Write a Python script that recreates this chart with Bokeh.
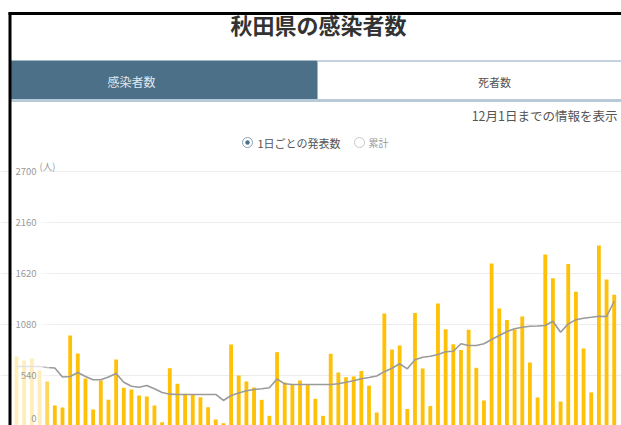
from bokeh.plotting import figure
from bokeh.models import Range1d, FixedTicker, Grid
from bokeh.core.properties import value
from bokeh.embed import file_html
from bokeh.resources import INLINE

# ---- data ----
daily = [738, 696, 717, 589, 473, 218, 196, 961, 770, 504,
         175, 483, 278, 706, 406, 388, 324, 313, 218, 40,
         614, 448, 342, 335, 306, 200, 69, 30, 866, 536,
         473, 409, 278, 108, 784, 462, 435, 483, 441, 289,
         108, 767, 568, 518, 526, 584, 428, 143, 1195, 812,
         855, 181, 1200, 611, 212, 1301, 1027, 868, 807, 1022,
         618, 271, 1726, 1248, 1126, 1025, 1163, 674, 303, 1821,
         1569, 260, 1720, 1425, 823, 356, 1917, 1556, 1393]
avg7 = [632, 632, 632, 632, 621, 616, 520, 526, 568, 526,
        491, 491, 520, 558, 465, 423, 412, 430, 395, 356,
        338, 335, 335, 335, 335, 335, 335, 271, 324, 350,
        374, 388, 395, 406, 499, 448, 441, 441, 441, 441,
        441, 441, 448, 465, 480, 501, 515, 531, 577, 613,
        661, 607, 703, 731, 741, 759, 788, 794, 873, 855,
        855, 873, 919, 961, 1004, 1032, 1049, 1059, 1062, 1067,
        1113, 996, 1085, 1128, 1145, 1155, 1166, 1163, 1325]
y_ticks = [540, 1080, 1620, 2160, 2700]
y_tick_labels = ["540", "1080", "1620", "2160", "2700"]
zero_tick = [0]
zero_label = ["0"]
title_text = "秋田県の感染者数"
tab_labels = ["感染者数", "死者数"]
note_text = "12月1日までの情報を表示"
radio_labels = ["1日ごとの発表数", "累計"]
unit_text = "(人)"

idx = list(range(len(daily)))
FONT = value("Noto Sans CJK JP")

p = figure(width=621, height=425,
           x_range=Range1d(-2.088, 78.95), y_range=Range1d(5.3, 4519),
           output_backend="svg", toolbar_location=None,
           x_axis_location=None, y_axis_location=None,
           min_border=0, min_border_left=0, min_border_right=0,
           min_border_top=0, min_border_bottom=0,
           outline_line_color=None,
           background_fill_color="white", border_fill_color="white")
p.title.visible = False
p.xgrid.visible = False
p.ygrid.visible = False
p.extra_x_ranges = {"px": Range1d(0, 621)}
p.extra_y_ranges = {"px": Range1d(425, 0)}

g = Grid(dimension=1, ticker=FixedTicker(ticks=y_ticks),
         grid_line_color="#ececec", grid_line_width=1)
p.add_layout(g)

# bars and average line
p.vbar(x=idx, top=daily, bottom=0, width=0.5, color="#FFC107", line_color=None)
p.line(x=idx, y=avg7, line_color="#9a9a9a", line_width=1.6)

PX = dict(x_range_name="px", y_range_name="px")

# faded overlay on the left (sticky axis area)
p.quad(left=[11], right=[43], top=[150], bottom=[425], fill_color="white",
       fill_alpha=0.72, line_color=None, **PX)
p.quad(left=[43], right=[49], top=[150], bottom=[425], fill_color="white",
       fill_alpha=0.35, line_color=None, **PX)

# y tick labels
p.text(x=[36] * len(y_ticks), y=y_ticks, text=y_tick_labels, x_range_name="px",
       text_align="right", text_baseline="middle", text_font=FONT,
       text_font_size="9.5px", text_color="#9a9a9a")
p.text(x=[36], y=zero_tick, text=zero_label, x_range_name="px", y_offset=-4,
       text_align="right", text_baseline="bottom", text_font=FONT,
       text_font_size="9.5px", text_color="#9a9a9a")
p.text(x=[39], y=[165], text=[unit_text], text_align="left", text_baseline="middle",
       text_font=FONT, text_font_size="9.5px", text_color="#9a9a9a", **PX)

# title
p.text(x=[318], y=[23], text=[title_text], text_align="center", text_baseline="middle",
       text_font=FONT, text_font_size="22px", text_font_style="bold",
       text_color="#333333", **PX)

# tabs
p.quad(left=[10], right=[317], top=[60], bottom=[98.5], fill_color="#4d7089",
       line_color=None, **PX)
p.quad(left=[317], right=[621], top=[59.5], bottom=[61.5], fill_color="#c3d2de",
       line_color=None, **PX)
p.quad(left=[10], right=[621], top=[98.5], bottom=[101.5], fill_color="#b8c9d7",
       line_color=None, **PX)
p.text(x=[131], y=[81], text=[tab_labels[0]], text_align="center", text_baseline="middle",
       text_font=FONT, text_font_size="12px", text_color="#e2e8ee", **PX)
p.text(x=[494], y=[81], text=[tab_labels[1]], text_align="center", text_baseline="middle",
       text_font=FONT, text_font_size="11px", text_color="#555555", **PX)

# note
p.text(x=[617], y=[115], text=[note_text], text_align="right", text_baseline="middle",
       text_font=FONT, text_font_size="12.5px", text_color="#555555", **PX)

# radio buttons
p.scatter(x=[247, 359], y=[142, 142], size=10, fill_color="white",
          line_color=["#8aa0b3", "#c8c8c8"], line_width=1, **PX)
p.scatter(x=[247], y=[142], size=4.5, fill_color="#4d7089", line_color=None, **PX)
p.text(x=[257], y=[142], text=[radio_labels[0]], text_align="left", text_baseline="middle",
       text_font=FONT, text_font_size="11px", text_color="#555555", **PX)
p.text(x=[368], y=[142], text=[radio_labels[1]], text_align="left", text_baseline="middle",
       text_font=FONT, text_font_size="10px", text_color="#999999", **PX)

# black frame of the page box
p.quad(left=[8], right=[11], top=[12], bottom=[425], fill_color="black",
       line_color=None, **PX)
p.quad(left=[8], right=[621], top=[11.5], bottom=[14.5], fill_color="black",
       line_color=None, **PX)

open("out.html", "w").write(file_html(p, INLINE))
